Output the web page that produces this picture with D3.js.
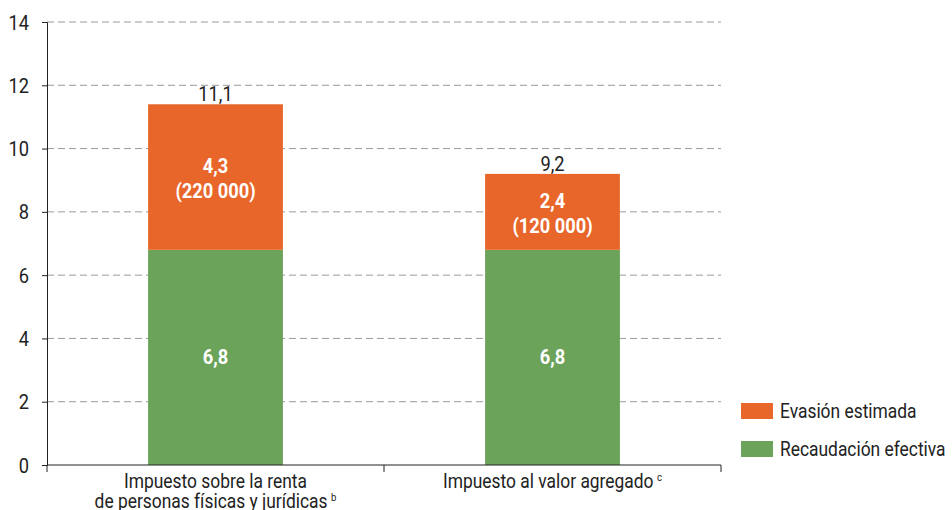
<!DOCTYPE html>
<html>
<head>
<meta charset="utf-8">
<script src="https://cdn.jsdelivr.net/npm/d3@7"></script>
<style>
  body { margin: 0; background: #fff; }
  svg text { font-family: "Roboto", "Liberation Sans", sans-serif; }
</style>
</head>
<body>
<script>
const categories = ["renta", "iva"];
const categoryLabels = [
  ["Impuesto sobre la renta", "de personas físicas y jurídicas"],
  ["Impuesto al valor agregado"]
];
const categoryNotes = ["b", "c"];
const recaudacion = [6.8, 6.8];
const evasion = [4.6, 2.4];          // drawn heights
const evasionLabels = ["4,3", "2,4"];
const evasionCounts = ["(220 000)", "(120 000)"];
const recaudacionLabels = ["6,8", "6,8"];
const totalLabels = ["11,1", "9,2"];
const yTicks = [0, 2, 4, 6, 8, 10, 12, 14];
const seriesNames = ["Evasión estimada", "Recaudación efectiva"];

const orange = "#e8662a";
const green = "#6ba35a";
const ink = "#222";
const sx = 0.87; // horizontal squeeze to imitate a condensed face

const width = 952, height = 510;
const margin = { top: 22, right: 231, bottom: 45, left: 47 };

const svg = d3.select("body").append("svg")
  .attr("width", width)
  .attr("height", height);

// condensed text helper
function ctext(g, px, py, str, size, anchor = "middle") {
  return g.append("text")
    .attr("transform", `translate(${px},${py}) scale(${sx},1)`)
    .attr("text-anchor", anchor)
    .attr("font-size", size)
    .text(str);
}

const x = d3.scaleBand()
  .domain(categories)
  .range([margin.left, width - margin.right])
  .paddingInner(0.6)
  .paddingOuter(0.3);

const y = d3.scaleLinear()
  .domain([0, 14])
  .range([height - margin.bottom, margin.top]);

// grid
svg.append("g")
  .selectAll("line")
  .data(yTicks.filter(d => d > 0))
  .join("line")
  .attr("x1", margin.left)
  .attr("x2", width - margin.right)
  .attr("y1", d => y(d))
  .attr("y2", d => y(d))
  .attr("stroke", "#9a9a9a")
  .attr("stroke-width", 1)
  .attr("stroke-dasharray", "7,4");

const data = categories.map((c, i) => ({
  c, rec: recaudacion[i], ev: evasion[i]
}));

// bars
svg.append("g")
  .selectAll("rect")
  .data(data)
  .join("rect")
  .attr("x", d => x(d.c))
  .attr("width", x.bandwidth())
  .attr("y", d => y(d.rec))
  .attr("height", d => y(0) - y(d.rec))
  .attr("fill", green);

svg.append("g")
  .selectAll("rect")
  .data(data)
  .join("rect")
  .attr("x", d => x(d.c))
  .attr("width", x.bandwidth())
  .attr("y", d => y(d.rec + d.ev))
  .attr("height", d => y(d.rec) - y(d.rec + d.ev))
  .attr("fill", orange);

// labels inside bars
const labels = svg.append("g")
  .attr("font-weight", "bold")
  .attr("fill", "#fff");

const totals = svg.append("g").attr("fill", ink);

data.forEach((d, i) => {
  const cx = x(d.c) + x.bandwidth() / 2;
  const mid = (y(d.rec) + y(d.rec + d.ev)) / 2;
  ctext(labels, cx, mid - 4, evasionLabels[i], 21);
  ctext(labels, cx, mid + 21, evasionCounts[i], 21);
  ctext(labels, cx, (y(0) + y(d.rec)) / 2 + 7, recaudacionLabels[i], 21);
  ctext(totals, cx, y(d.rec + d.ev) - 3, totalLabels[i], 21);
});

// y axis
const yAxis = svg.append("g")
  .attr("transform", `translate(${margin.left},0)`)
  .call(d3.axisLeft(y).tickValues(yTicks).tickSize(5).tickPadding(8));
yAxis.select(".domain").attr("stroke", ink);
yAxis.selectAll(".tick line").attr("stroke", ink);
yAxis.selectAll(".tick text").remove();
yAxis.selectAll(".tick").each(function (d) {
  ctext(d3.select(this), -18, 7, d, 21, "end").attr("fill", ink);
});

// x axis baseline with ticks at band boundaries
const x0 = margin.left, x1 = width - margin.right;
const bx = svg.append("g").attr("stroke", ink);
bx.append("line").attr("x1", x0).attr("x2", x1).attr("y1", y(0)).attr("y2", y(0));
[x0, (x0 + x1) / 2, x1].forEach(px => {
  bx.append("line").attr("x1", px).attr("x2", px).attr("y1", y(0)).attr("y2", y(0) + 7);
});

// category labels
categories.forEach((c, i) => {
  const cx = x(c) + x.bandwidth() / 2;
  categoryLabels[i].forEach((line, j) => {
    const isLast = j === categoryLabels[i].length - 1;
    const t = ctext(svg, cx, y(0) + 23 + j * 20, line, 20).attr("fill", ink);
    if (isLast) {
      t.append("tspan")
        .attr("dx", 4)
        .attr("dy", -7)
        .attr("font-size", 11)
        .text(categoryNotes[i]);
    }
  });
});

// legend
const legend = svg.append("g").attr("transform", "translate(741,403)");
[orange, green].forEach((col, i) => {
  legend.append("rect")
    .attr("x", 0)
    .attr("y", i * 38)
    .attr("width", 32)
    .attr("height", 16)
    .attr("fill", col);
  ctext(legend, 39, i * 38 + 15, seriesNames[i], 20, "start").attr("fill", ink);
});
</script>
</body>
</html>
